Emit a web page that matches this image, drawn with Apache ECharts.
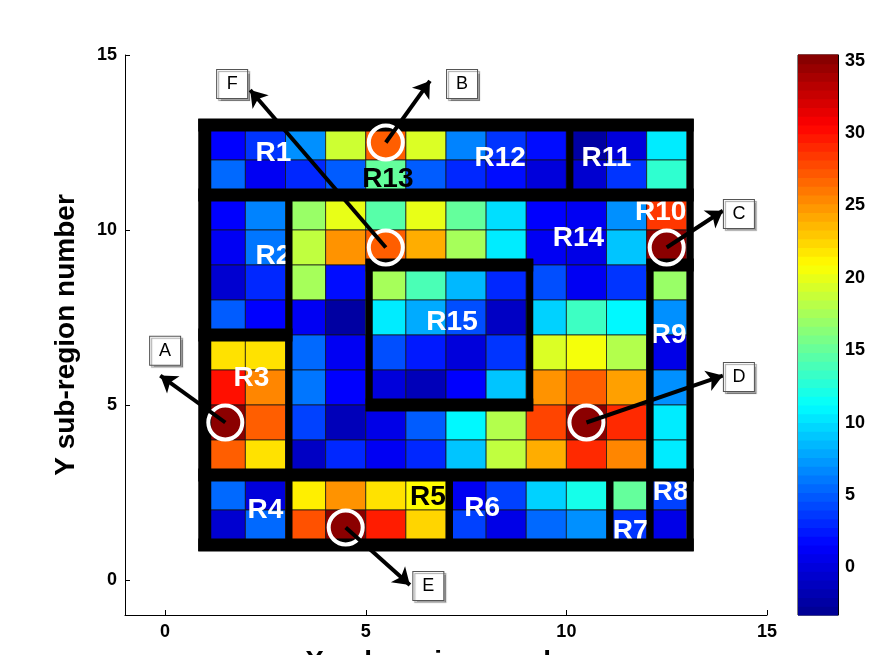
<!DOCTYPE html>
<html>
<head>
<meta charset="utf-8">
<script src="https://cdn.jsdelivr.net/npm/echarts@6/dist/echarts.min.js"></script>
<style>
  html, body { margin: 0; padding: 0; background: #fff; }
  #main { width: 885px; height: 655px; }
</style>
</head>
<body>
<div id="main"></div>
<script>
// axis ticks
var xTicks = [0, 5, 10, 15];
var yTicks = [0, 5, 10, 15];
var cbTicks = [0, 5, 10, 15, 20, 25, 30, 35];
var cbMin = -3.3, cbMax = 35.4;

// cell centres
var colCenters = [1.5, 2.5, 3.5, 4.5, 5.5, 6.5, 7.5, 8.5, 9.5, 10.5, 11.5, 12.5];
var rowCenters = [12.5, 11.5, 10.5, 9.5, 8.5, 7.5, 6.5, 5.5, 4.5, 3.5, 2.5, 1.5];

// cell values, top row first
var row12 = [1.5, 3.5, 7, 19, 27, 19.5, 6.5, 3.5, 2, -2.5, 0, 10.5];
var row11 = [5.5, 1, 3, 5, 15, 5, 3, 2, 0, -0.5, 3.5, 13];
var row10 = [1.5, 6.5, 17, 20, 14.5, 20, 15, 10, 1.5, 1, 7, 28.5];
var row9  = [1, 6, 18.5, 25, 27, 24, 17.5, 10.5, 1, 0.5, 9, 35];
var row8  = [-0.5, 3, 17.5, 2, 17.5, 14, 8.5, 3, 4.5, 1, 3.5, 17];
var row7  = [5, 1.5, 1, -2.5, 10.5, 8, 4.5, -1, 9.5, 13.5, 11, 7];
var row6  = [22, 22, 5.5, 1, 4.5, 2.5, 0, 3.5, 19.5, 20.5, 18, 0.5];
var row5  = [30, 25.5, 6, 1.5, 0, -1.5, 1.5, 9, 25, 27, 24.5, 7];
var row4  = [35, 27, 4, -1.5, 0.5, 5, 11, 18, 28, 35, 29, 10.5];
var row3  = [27, 22, -1, 3, 1, 3, 9, 18.5, 24, 29, 25.5, 10.5];
var row2  = [5.5, 0, 21.5, 25, 22, 21, 1, 4, 9.5, 12, 15, 4];
var row1  = [-0.5, 5.5, 27.5, 35, 29.5, 22.5, 4, 0.5, 5.5, 7, 3.5, 0.5];
var rows = [row12, row11, row10, row9, row8, row7, row6, row5, row4, row3, row2, row1];

// sub-region labels
var regionNames = ['R1', 'R2', 'R3', 'R4', 'R5', 'R6', 'R7', 'R8', 'R9', 'R10', 'R11', 'R12', 'R13', 'R14', 'R15'];
var regionX = [2.7, 2.7, 2.15, 2.5, 6.55, 7.9, 11.6, 12.6, 12.55, 12.35, 11.0, 8.35, 5.55, 10.3, 7.15];
var regionY = [12.2, 9.25, 5.75, 2.0, 2.35, 2.05, 1.4, 2.5, 7.0, 10.5, 12.05, 12.05, 11.45, 9.75, 7.35];
var darkLabels = ['R5', 'R13'];

// region borders [x1, y1, x2, y2]
var borders = [
  [1, 1, 1, 13], [13, 1, 13, 13], [1, 13, 13, 13], [1, 1, 13, 1],
  [1, 11, 13, 11], [1, 3, 13, 3],
  [10, 11, 10, 13],
  [3, 3, 3, 11], [1, 7, 3, 7],
  [3, 1, 3, 3], [7, 1, 7, 3], [11, 1, 11, 3], [12, 1, 12, 3],
  [5, 5, 5, 9], [9, 5, 9, 9], [5, 9, 9, 9], [5, 5, 9, 5],
  [12, 3, 12, 9], [12, 9, 13, 9]
];

// marked cells, arrows and their tags
var markNames = ['A', 'B', 'C', 'D', 'E', 'F'];
var markX = [1.5, 5.5, 12.5, 10.5, 4.5, 5.5];
var markY = [4.5, 12.5, 9.5, 4.5, 1.5, 9.5];
var arrowEndX = [-0.12, 6.6, 13.9, 13.9, 6.1, 2.12];
var arrowEndY = [5.84, 14.26, 10.55, 5.84, -0.14, 14.0];
var tagX = [0, 7.4, 14.3, 14.3, 6.56, 1.67];
var tagY = [6.55, 14.17, 10.46, 5.8, -0.17, 14.17];

var jet = ['#00008f', '#0000ff', '#0080ff', '#00ffff', '#80ff80', '#ffff00', '#ff8000', '#ff0000', '#800000'];
var font = 'Liberation Sans, Arial, Helvetica, sans-serif';

var cellData = [];
rows.forEach(function (r, i) {
  r.forEach(function (v, j) {
    cellData.push([colCenters[j], rowCenters[i], v]);
  });
});

var cbData = [];
for (var k = 0; k < 64; k++) {
  var lo = cbMin + k * (cbMax - cbMin) / 64;
  var hi = cbMin + (k + 1) * (cbMax - cbMin) / 64;
  cbData.push([lo, hi, (lo + hi) / 2]);
}

var myChart = echarts.init(document.getElementById('main'));

myChart.setOption({
  animation: false,
  textStyle: { fontFamily: font },
  grid: [
    { left: 125, right: 118, top: 55, bottom: 40, containLabel: false, outerBoundsMode: 'none' },
    { left: 798, width: 40, top: 55, bottom: 40, show: true, borderColor: '#000', borderWidth: 1, outerBoundsMode: 'none' }
  ],
  xAxis: [
    {
      type: 'value', gridIndex: 0, min: -1, max: 15,
      name: 'X sub-region number', nameLocation: 'middle', nameGap: 33,
      nameTextStyle: { fontSize: 28, fontWeight: 'bold', color: '#000' },
      axisLine: { show: true, onZero: false, lineStyle: { color: '#000', width: 1 } },
      axisTick: { show: true, inside: true, length: 5, customValues: xTicks, lineStyle: { color: '#000' } },
      axisLabel: { customValues: xTicks, fontSize: 18, fontWeight: 'bold', color: '#000', margin: 8 },
      splitLine: { show: false }
    },
    { type: 'value', gridIndex: 1, min: 0, max: 1, show: false }
  ],
  yAxis: [
    {
      type: 'value', gridIndex: 0, min: -1, max: 15,
      name: 'Y sub-region number', nameLocation: 'middle', nameGap: 45,
      nameTextStyle: { fontSize: 28, fontWeight: 'bold', color: '#000' },
      axisLine: { show: true, onZero: false, lineStyle: { color: '#000', width: 1 } },
      axisTick: { show: true, inside: true, length: 5, customValues: yTicks, lineStyle: { color: '#000' } },
      axisLabel: { customValues: yTicks, fontSize: 18, fontWeight: 'bold', color: '#000', margin: 8 },
      splitLine: { show: false }
    },
    {
      type: 'value', gridIndex: 1, min: cbMin, max: cbMax, position: 'right',
      axisLine: { show: true, onZero: false, lineStyle: { color: '#000' } },
      axisTick: { show: true, inside: true, length: 4, customValues: cbTicks, lineStyle: { color: '#000' } },
      axisLabel: { customValues: cbTicks, fontSize: 18, fontWeight: 'bold', color: '#000', margin: 7 },
      splitLine: { show: false }
    },
    {
      type: 'value', gridIndex: 1, min: cbMin, max: cbMax, position: 'left',
      axisLine: { show: false },
      axisTick: { show: true, inside: true, length: 4, customValues: cbTicks, lineStyle: { color: '#000' } },
      axisLabel: { show: false },
      splitLine: { show: false }
    }
  ],
  visualMap: {
    type: 'continuous', show: false, min: cbMin, max: cbMax, dimension: 2,
    seriesIndex: [0, 1], inRange: { color: jet }
  },
  series: [
    {
      type: 'custom', xAxisIndex: 0, yAxisIndex: 0, z: 1,
      data: cellData,
      renderItem: function (params, api) {
        var x = api.value(0), y = api.value(1);
        var p1 = api.coord([x - 0.5, y + 0.5]);
        var p2 = api.coord([x + 0.5, y - 0.5]);
        return {
          type: 'rect',
          shape: { x: p1[0], y: p1[1], width: p2[0] - p1[0], height: p2[1] - p1[1] },
          style: { fill: api.visual('color'), stroke: 'rgba(20,20,20,0.75)', lineWidth: 1 }
        };
      }
    },
    {
      type: 'custom', xAxisIndex: 1, yAxisIndex: 1, z: 1,
      data: cbData,
      renderItem: function (params, api) {
        var p1 = api.coord([0, api.value(1)]);
        var p2 = api.coord([1, api.value(0)]);
        return {
          type: 'rect',
          shape: { x: p1[0], y: p1[1] - 0.5, width: p2[0] - p1[0], height: p2[1] - p1[1] + 1 },
          style: { fill: api.visual('color') }
        };
      }
    },
    {
      type: 'scatter', xAxisIndex: 0, yAxisIndex: 0, z: 2, silent: true,
      symbolSize: 1, itemStyle: { color: 'rgba(0,0,0,0)', opacity: 1 },
      data: regionNames.map(function (n, i) {
        return {
          name: n, value: [regionX[i], regionY[i]],
          label: { color: darkLabels.indexOf(n) >= 0 ? '#000' : '#fff' }
        };
      }),
      label: { show: true, position: 'inside', formatter: '{b}', fontSize: 28, fontWeight: 'bold', fontFamily: font }
    },
    {
      type: 'custom', xAxisIndex: 0, yAxisIndex: 0, z: 3, silent: true,
      data: borders,
      renderItem: function (params, api) {
        var x1 = api.value(0), y1 = api.value(1), x2 = api.value(2), y2 = api.value(3);
        var a = api.coord([Math.min(x1, x2), Math.max(y1, y2)]);
        var b = api.coord([Math.max(x1, x2), Math.min(y1, y2)]);
        var shape;
        if (x1 === x2) {
          var left = x1 === 1 ? a[0] - 7 : a[0];
          var w = x1 === 1 ? 13 : 7;
          shape = { x: left, y: a[1] - 6, width: w, height: b[1] - a[1] + 12 };
        } else {
          var l = Math.min(x1, x2) === 1 ? a[0] - 7 : a[0];
          shape = { x: l, y: a[1] - 6.5, width: b[0] + 7 - l, height: 13 };
        }
        return { type: 'rect', shape: shape, style: { fill: '#000' } };
      }
    },
    {
      type: 'scatter', xAxisIndex: 0, yAxisIndex: 0, z: 4, silent: true,
      symbol: 'circle', symbolSize: 34,
      itemStyle: { color: 'rgba(0,0,0,0)', borderColor: '#fff', borderWidth: 4, opacity: 1 },
      data: markX.map(function (x, i) { return [x, markY[i]]; })
    },
    {
      type: 'lines', coordinateSystem: 'cartesian2d', xAxisIndex: 0, yAxisIndex: 0, z: 5, silent: true,
      symbol: ['none', 'arrow'], symbolSize: 16,
      lineStyle: { color: '#000', width: 4, opacity: 1, curveness: 0 },
      data: markX.map(function (x, i) {
        return { coords: [[x, markY[i]], [arrowEndX[i], arrowEndY[i]]] };
      })
    },
    {
      type: 'scatter', xAxisIndex: 0, yAxisIndex: 0, z: 6, silent: true,
      symbol: 'rect', symbolSize: [31, 29],
      itemStyle: {
        color: '#fff', borderColor: '#555', borderWidth: 1, opacity: 1,
        shadowColor: 'rgba(0,0,0,0.35)', shadowOffsetX: 2, shadowOffsetY: 2, shadowBlur: 1
      },
      data: markNames.map(function (n, i) { return { name: n, value: [tagX[i], tagY[i]] }; }),
      label: { show: true, position: 'inside', formatter: '{b}', color: '#000', fontSize: 18, fontFamily: font }
    }
  ]
});

window.onresize = function () {
  myChart.resize();
};
</script>
</body>
</html>
